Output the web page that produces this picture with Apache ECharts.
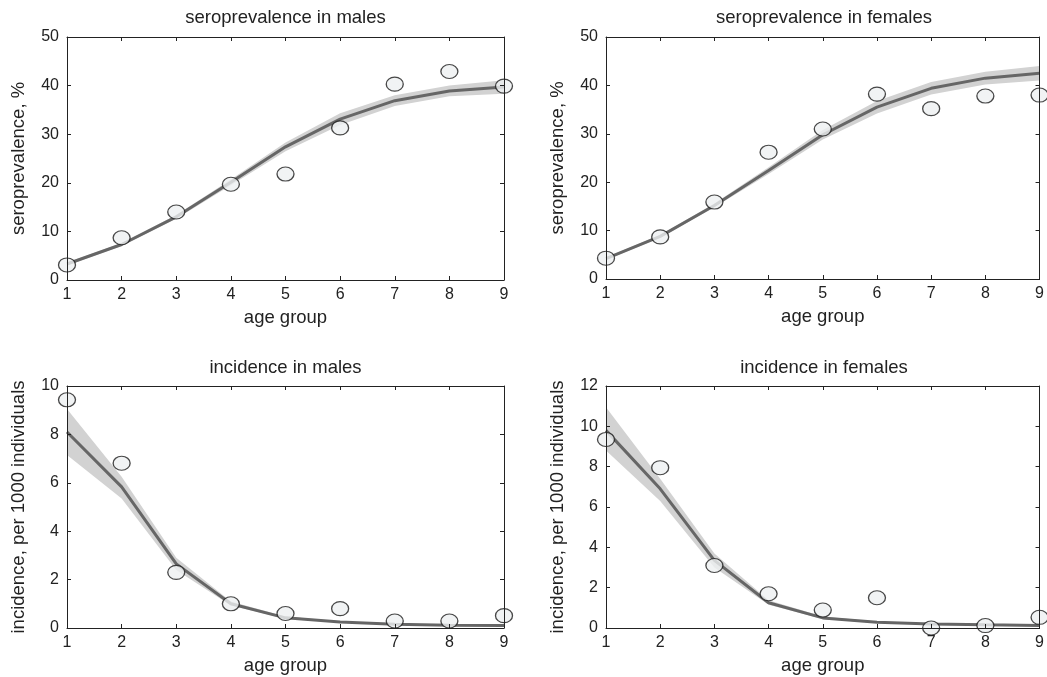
<!DOCTYPE html>
<html>
<head>
<meta charset="utf-8">
<script src="https://cdn.jsdelivr.net/npm/echarts@6/dist/echarts.min.js"></script>
<style>
html,body{margin:0;padding:0;background:#fff;}
#chart{width:1047px;height:677px;}
</style>
</head>
<body>
<div id="chart"></div>
<script>
// ---- data ----
const ageGroups = [1, 2, 3, 4, 5, 6, 7, 8, 9];

const panelTitles = ['seroprevalence in males', 'seroprevalence in females', 'incidence in males', 'incidence in females'];
const yAxisNames = ['seroprevalence, %', 'seroprevalence, %', 'incidence, per 1000 individuals', 'incidence, per 1000 individuals'];
const xAxisName = 'age group';
const yAxisMax = [50, 50, 10, 12];
const yAxisStep = [10, 10, 2, 2];

const seroMalesObs  = [3.1, 8.7, 14.0, 19.7, 21.8, 31.3, 40.3, 42.9, 39.9];
const seroMalesFit  = [3.3, 7.3, 13.0, 20.1, 27.4, 33.1, 36.9, 38.9, 39.7];
const seroMalesLow  = [3.0, 7.0, 12.6, 19.5, 26.5, 31.9, 35.8, 37.8, 38.3];
const seroMalesHigh = [3.6, 7.6, 13.4, 20.7, 28.3, 34.3, 38.0, 40.0, 41.1];

const seroFemalesObs  = [4.3, 8.7, 15.9, 26.2, 31.0, 38.2, 35.2, 37.8, 38.0];
const seroFemalesFit  = [4.2, 8.8, 15.2, 22.4, 29.8, 35.5, 39.4, 41.5, 42.5];
const seroFemalesLow  = [3.9, 8.5, 14.8, 21.7, 28.8, 34.2, 38.1, 40.2, 41.0];
const seroFemalesHigh = [4.5, 9.1, 15.6, 23.1, 30.8, 36.8, 40.7, 42.8, 44.0];

const incMalesObs  = [9.43, 6.81, 2.30, 1.00, 0.60, 0.80, 0.29, 0.29, 0.51];
const incMalesFit  = [8.10, 5.83, 2.65, 1.00, 0.42, 0.25, 0.15, 0.11, 0.10];
const incMalesLow  = [7.15, 5.35, 2.40, 0.93, 0.38, 0.22, 0.13, 0.09, 0.08];
const incMalesHigh = [9.05, 6.25, 2.90, 1.10, 0.48, 0.28, 0.18, 0.13, 0.12];

const incFemalesObs  = [9.35, 7.95, 3.10, 1.70, 0.89, 1.50, 0.00, 0.12, 0.53];
const incFemalesFit  = [9.80, 6.90, 3.35, 1.25, 0.50, 0.28, 0.20, 0.16, 0.13];
const incFemalesLow  = [8.80, 6.30, 3.00, 1.15, 0.45, 0.25, 0.17, 0.13, 0.10];
const incFemalesHigh = [10.95, 7.40, 3.70, 1.38, 0.57, 0.32, 0.23, 0.19, 0.16];

const panels = [
  {obs: seroMalesObs, fit: seroMalesFit, low: seroMalesLow, high: seroMalesHigh},
  {obs: seroFemalesObs, fit: seroFemalesFit, low: seroFemalesLow, high: seroFemalesHigh},
  {obs: incMalesObs, fit: incMalesFit, low: incMalesLow, high: incMalesHigh},
  {obs: incFemalesObs, fit: incFemalesFit, low: incFemalesLow, high: incFemalesHigh}
];

// ---- layout / style ----
const FONT = 'Liberation Sans, Arial, Helvetica, sans-serif';
const TXT = '#222';
const grids = [
  {left: 67, top: 37, width: 437, height: 243},
  {left: 606, top: 37, width: 436, height: 242},
  {left: 67, top: 386, width: 437, height: 242},
  {left: 606, top: 386, width: 436, height: 242}
];
const titleTops = [8, 8, 358, 358];

const option = {
  animation: false,
  backgroundColor: '#fff',
  title: [], grid: [], xAxis: [], yAxis: [], series: []
};

const pair = arr => ageGroups.map((x, i) => [x, arr[i]]);

panels.forEach((p, k) => {
  const g = grids[k];
  option.grid.push({left: g.left, top: g.top, width: g.width, height: g.height, show: false, containLabel: false});
  option.title.push({
    text: panelTitles[k], left: g.left + g.width / 2, top: titleTops[k], textAlign: 'center', padding: 0,
    textStyle: {fontFamily: FONT, fontSize: 18.5, fontWeight: 'normal', color: TXT}
  });
  const axisLine = {show: true, onZero: false, lineStyle: {color: TXT, width: 1}};
  const axisTick = {show: true, inside: true, length: 4, lineStyle: {color: TXT, width: 1}};
  option.xAxis.push({
    gridIndex: k, type: 'value', min: 1, max: 9, interval: 1, position: 'bottom', z: 5,
    name: xAxisName, nameLocation: 'middle', nameGap: 28,
    nameTextStyle: {fontFamily: FONT, fontSize: 18.5, color: TXT},
    axisLine, axisTick, splitLine: {show: false},
    axisLabel: {fontFamily: FONT, fontSize: 16, color: TXT, margin: 7}
  });
  option.xAxis.push({
    gridIndex: k, type: 'value', min: 1, max: 9, interval: 1, position: 'top', z: 5,
    axisLine, axisTick, splitLine: {show: false}, axisLabel: {show: false}
  });
  option.yAxis.push({
    gridIndex: k, type: 'value', min: 0, max: yAxisMax[k], interval: yAxisStep[k], position: 'left', z: 5,
    name: yAxisNames[k], nameLocation: 'middle', nameGap: 39,
    nameTextStyle: {fontFamily: FONT, fontSize: 18.5, color: TXT},
    axisLine, axisTick, splitLine: {show: false},
    axisLabel: {fontFamily: FONT, fontSize: 16, color: TXT, margin: 8}
  });
  option.yAxis.push({
    gridIndex: k, type: 'value', min: 0, max: yAxisMax[k], interval: yAxisStep[k], position: 'right', z: 5,
    axisLine, axisTick, splitLine: {show: false}, axisLabel: {show: false}
  });
  const xi = 2 * k, yi = 2 * k;
  // confidence band as polygon via custom series
  option.series.push({
    type: 'custom', xAxisIndex: xi, yAxisIndex: yi, silent: true, z: 1, clip: false,
    data: ageGroups.map((x, i) => [x, p.low[i], p.high[i]]),
    encode: {x: 0, y: [1, 2]},
    renderItem: function (params, api) {
      if (params.dataIndex !== 0) return null;
      const upper = ageGroups.map((x, i) => api.coord([x, p.high[i]]));
      const lower = ageGroups.map((x, i) => api.coord([x, p.low[i]])).reverse();
      return {
        type: 'polygon',
        shape: {points: upper.concat(lower)},
        style: {fill: '#d2d2d2', stroke: 'none'}
      };
    }
  });
  option.series.push({
    type: 'line', xAxisIndex: xi, yAxisIndex: yi, data: pair(p.fit),
    symbol: 'none', lineStyle: {color: '#666666', width: 3}, z: 2, clip: false
  });
  option.series.push({
    type: 'scatter', xAxisIndex: xi, yAxisIndex: yi, data: pair(p.obs),
    symbol: 'circle', symbolSize: [17, 14],
    itemStyle: {color: '#eef0f1', borderColor: '#1a1a1a', borderWidth: 1.2},
    z: 3, clip: false
  });
});

const chart = echarts.init(document.getElementById('chart'), null, {renderer: 'canvas'});
chart.setOption(option);
</script>
</body>
</html>
